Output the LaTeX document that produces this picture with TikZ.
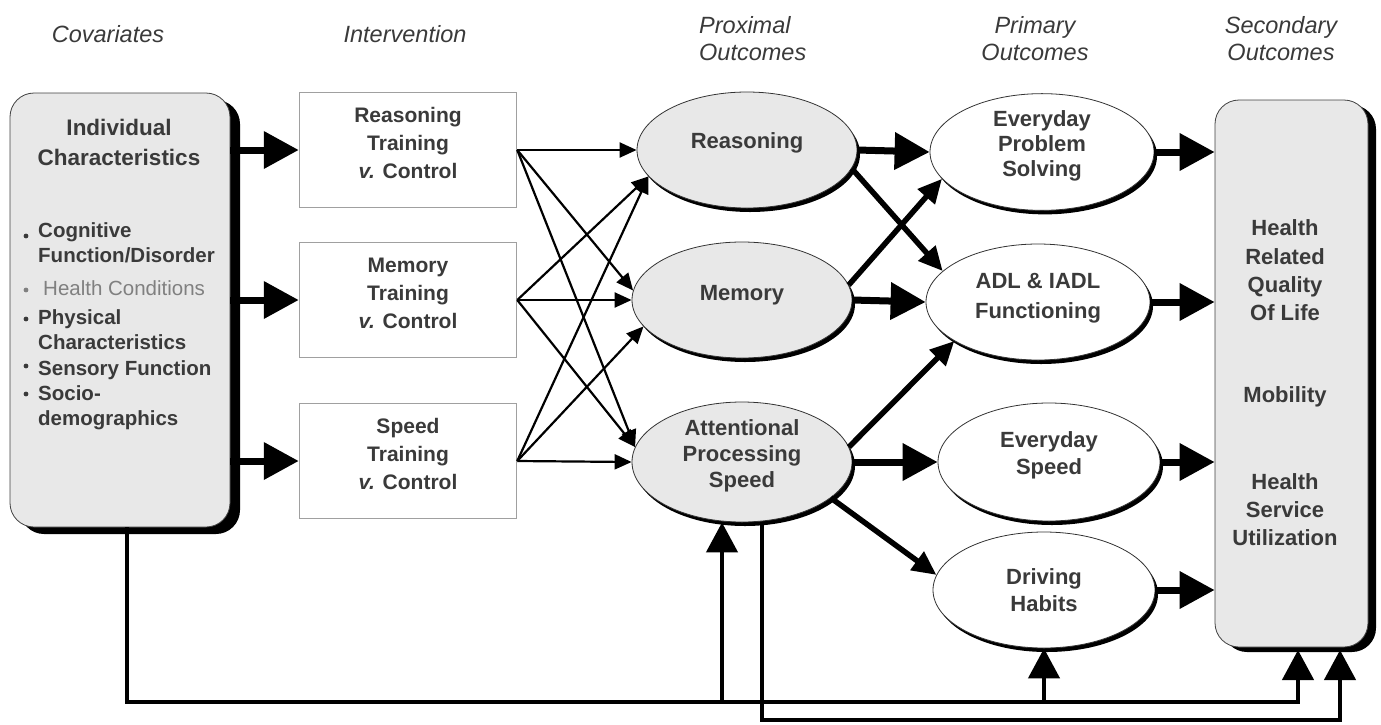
\documentclass[tikz,border=0pt]{standalone}
\usepackage{fontspec}
\setmainfont{Liberation Sans}
\usetikzlibrary{arrows.meta,shapes.geometric,shadows}

\definecolor{boxgray}{HTML}{E8E8E8}
\definecolor{inkgray}{HTML}{3A3A3A}
\definecolor{softink}{HTML}{808080}
\definecolor{edgegray}{HTML}{A0A0A0}

\tikzset{
  hdr/.style={font=\fontsize{23.5}{27}\selectfont\itshape, text=inkgray, align=center, inner sep=0pt},
  lbl/.style={font=\fontsize{22}{27}\selectfont\bfseries, text=inkgray, align=center, inner sep=0pt},
  itemtxt/.style={font=\fontsize{20.5}{25}\selectfont\bfseries, text=inkgray, align=left, inner sep=0pt, anchor=north west},
  covbox/.style={draw=black!75, line width=0.8pt, fill=boxgray, rounded corners=24pt,
    minimum width=220pt, minimum height=434pt, inner sep=0pt,
    drop shadow={shadow xshift=10pt, shadow yshift=-7pt, opacity=1, fill=black}},
  secbox/.style={draw=black!75, line width=0.8pt, fill=boxgray, rounded corners=24pt,
    minimum width=153pt, minimum height=547pt, inner sep=0pt,
    drop shadow={shadow xshift=8pt, shadow yshift=-5pt, opacity=1, fill=black}},
  intbox/.style={lbl, font=\fontsize{21}{28}\selectfont\bfseries, draw=edgegray, line width=1.5pt, fill=white,
    minimum width=217pt, minimum height=115pt, text depth=14pt},
  prox/.style={lbl, ellipse, draw=black!80, line width=0.8pt, fill=boxgray,
    minimum width=220pt, minimum height=116pt,
    drop shadow={shadow xshift=3pt, shadow yshift=-4pt, opacity=1, fill=black}},
  prim/.style={prox, fill=white, minimum width=224pt},
  bigarrow/.style={line width=7pt, -{Triangle[length=35pt,width=36pt]}},
  medarrow/.style={line width=5.5pt, -{Triangle[length=24pt,width=22pt]}},
  thinarrow/.style={line width=2.2pt, -{Triangle[length=17pt,width=15pt]}},
  busline/.style={line width=4.5pt},
  busarrow/.style={busline, -{Triangle[length=30pt,width=31pt]}}
}

\begin{document}
\begin{tikzpicture}[x=1pt,y=-1pt]
  \useasboundingbox (0,0) rectangle (1381,724);

  %column heads
	\node[hdr] (hcov) at (108,34) {Covariates};
	\node[hdr] (hint) at (405,34) {Intervention};
	\node[hdr, align=left, anchor=west] (hprox) at (699,39) {Proximal\\Outcomes};
	\node[hdr] (hprim) at (1035,39) {Primary\\Outcomes};
	\node[hdr] (hsec) at (1281,39) {Secondary\\Outcomes};

  %covariates box
	\node[covbox] (cov) at (120,310) {};
	\node[lbl, font=\fontsize{22.5}{30}\selectfont\bfseries] (covtitle) at (119,142) {Individual\\Characteristics};
	\fill[inkgray] (26,236) circle (2.4);
	\node[itemtxt] (cog) at (38,222.5) {Cognitive\\Function/Disorder};
	\fill[softink] (26,290) circle (2.4);
	\node[itemtxt, font=\fontsize{20.5}{25}\selectfont, text=softink] (hlth) at (43,280.5) {Health Conditions};
	\fill[inkgray] (26,319) circle (2.4);
	\node[itemtxt] (phys) at (38,309.5) {Physical\\Characteristics};
	\fill[inkgray] (26,366) circle (2.4);
	\node[itemtxt] (sens) at (38,360.5) {Sensory Function};
	\fill[inkgray] (26,394) circle (2.4);
	\node[itemtxt] (socio) at (38,385.5) {Socio-\\demographics};

  %intervention boxes
	\node[intbox] (rtrain) at (408,150) {Reasoning\\Training\\\textit{v.} Control};
	\node[intbox] (mtrain) at (408,300) {Memory\\Training\\\textit{v.} Control};
	\node[intbox] (strain) at (408,461) {Speed\\Training\\\textit{v.} Control};

  %proximal outcomes
	\node[prox, text depth=18.6pt] (reas) at (747,150) {Reasoning};
	\node[prox, text depth=14.6pt] (mem) at (742,300) {Memory};
	\node[prox, minimum height=120pt, text depth=16.6pt, font=\fontsize{22}{26}\selectfont\bfseries] (att) at (742,462) {Attentional\\Processing\\Speed};

  %primary outcomes
	\node[prim, text depth=16.6pt, font=\fontsize{22}{25}\selectfont\bfseries] (eps) at (1042,152) {Everyday\\Problem\\Solving};
	\node[prim, text depth=12.6pt, font=\fontsize{22}{30}\selectfont\bfseries] (adl) at (1038,302) {ADL \& IADL\\Functioning};
	\node[prim, text depth=18.6pt, minimum width=222pt, minimum height=118pt] (spd) at (1049,462) {Everyday\\Speed};
	\node[prim, minimum width=222pt] (drv) at (1044,590) {Driving\\Habits};

  %secondary outcomes
	\node[secbox] (sec) at (1291.5,373.5) {};
	\node[lbl, font=\fontsize{22}{28.3}\selectfont\bfseries] (hrql) at (1285,270.5) {Health\\Related\\Quality\\Of Life};
	\node[lbl] (mob) at (1285,397) {Mobility};
	\node[lbl, font=\fontsize{22}{28}\selectfont\bfseries] (hsu) at (1285,510) {Health\\Service\\Utilization};

  %covariates -> intervention
	\draw[bigarrow] (cov.east |- rtrain) -- (rtrain.west);
	\draw[bigarrow] (cov.east |- mtrain) -- (mtrain.west);
	\draw[bigarrow] (cov.east |- strain) -- (strain.west);

  %intervention -> proximal
	\foreach \a/\b in {rtrain/reas.west, rtrain/mem.175, rtrain/att.172,
	                   mtrain/reas.195, mtrain/mem.west, mtrain/att.172,
	                   strain/reas.195, strain/mem.195, strain/att.west}
		\draw[thinarrow] (\a.east) -- (\b);

  %proximal -> primary
	\draw[bigarrow] (reas.east) -- (eps.west);
	\draw[medarrow] (reas.-10) -- (adl.162);
	\draw[bigarrow] (mem.east) -- (adl.west);
	\draw[medarrow] (mem.8) -- (eps.195);
	\draw[medarrow] (att.8) -- (adl.205);
	\draw[bigarrow] (att.east) -- (spd.west);
	\draw[medarrow] (att.-22) -- (drv.172);

  %primary -> secondary
	\foreach \p in {eps,adl,spd,drv}
		\draw[bigarrow] (\p.east) -- (\p.east -| sec.west);

  %lines along the bottom
	\coordinate (row1) at (0,702);
	\coordinate (row2) at (0,720);
	\coordinate (attin) at ([xshift=-20pt]att.south);
	\coordinate (attout) at ([xshift=20pt]att.south);
	\coordinate (secin1) at (1298,650);
	\coordinate (secin2) at (1340,650);
	\draw[busarrow] ([xshift=7pt]cov.south) |- (row1 -| secin1) -- (secin1);
	\draw[busarrow] (row1 -| attin) -- (attin);
	\draw[busarrow] (row1 -| drv.south) -- (drv.south);
	\draw[busarrow] (attout) |- (row2 -| secin2) -- (secin2);
\end{tikzpicture}
\end{document}
